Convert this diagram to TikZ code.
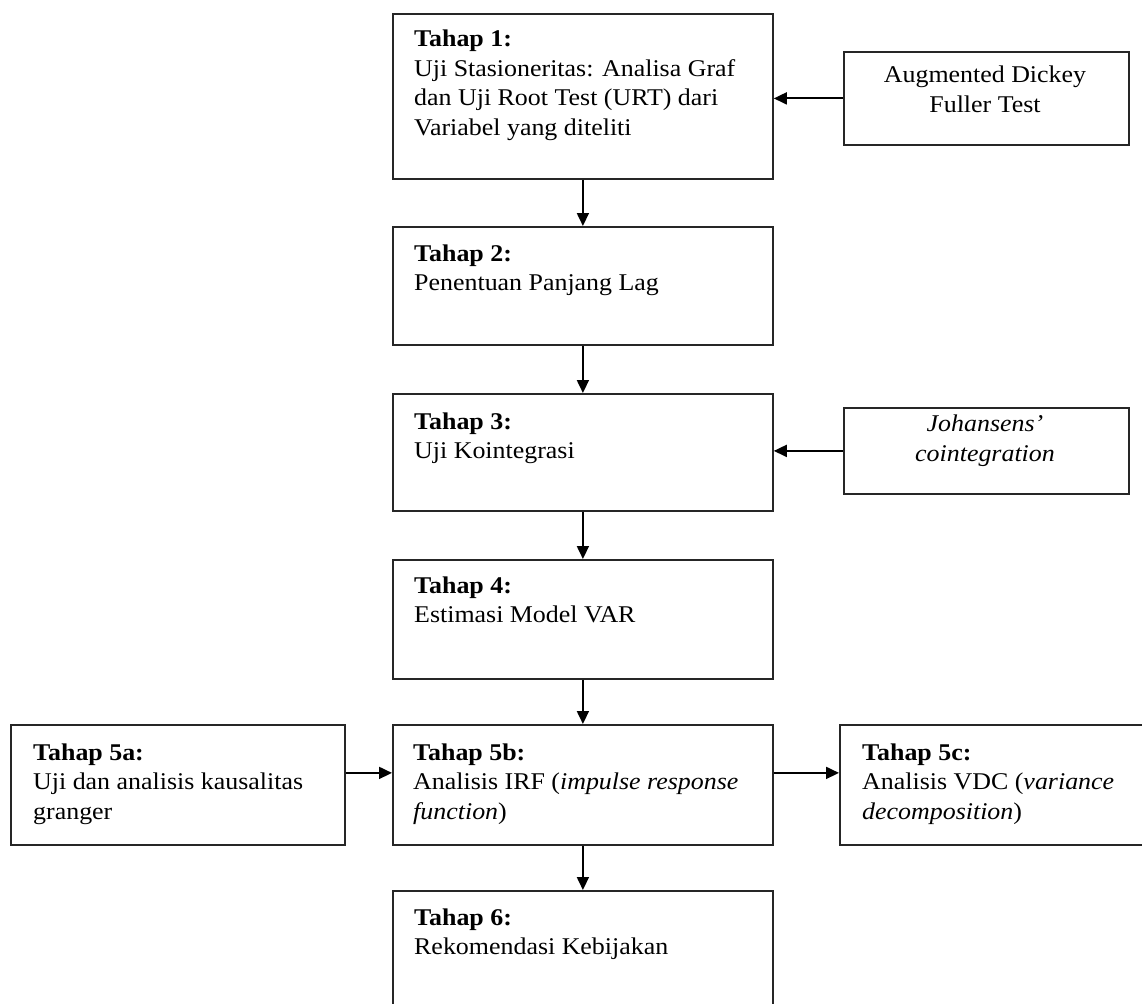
\documentclass[tikz,border=0pt]{standalone}
\usepackage{fontspec}
\setmainfont[FakeStretch=1.08]{Liberation Serif}
\usetikzlibrary{arrows.meta}
\newcommand{\lft}[1]{\begin{tabular}[t]{@{}l@{}}#1\end{tabular}}
\newcommand{\ctr}[1]{\begin{tabular}[t]{@{}c@{}}#1\end{tabular}}
\begin{document}
\begin{tikzpicture}[x=1pt,y=-1pt,
  box/.style={draw=black!85, line width=1.8pt, anchor=north west, inner sep=0pt},
  txt/.style={anchor=base west, inner sep=0pt, font=\fontsize{24pt}{29.5pt}\selectfont},
  ctxt/.style={anchor=base, inner sep=0pt, font=\fontsize{24pt}{30pt}\selectfont},
  arr/.style={line width=1.8pt, -{Triangle[length=13pt,width=12pt]}}]
\useasboundingbox (0,0) rectangle (1142,1003);
% boxes
\node[box, minimum width=380pt, minimum height=165pt] (b1) at (392,13) {};
\node[box, minimum width=380pt, minimum height=118pt] (b2) at (392,226) {};
\node[box, minimum width=380pt, minimum height=117pt] (b3) at (392,393) {};
\node[box, minimum width=380pt, minimum height=119pt] (b4) at (392,559) {};
\node[box, minimum width=380pt, minimum height=120pt] (b5b) at (392,724) {};
\node[box, minimum width=334pt, minimum height=120pt] (b5a) at (10,724) {};
\node[box, minimum width=315pt, minimum height=120pt] (b5c) at (839,724) {};
\node[box, minimum width=380pt, minimum height=125pt] (b6) at (392,890) {};
\node[box, minimum width=285pt, minimum height=93pt] (aug) at (843,51) {};
\node[box, minimum width=285pt, minimum height=86pt] (joh) at (843,407) {};
% texts
\node[txt] (t1) at ([shift={(22,34)}]b1.north west) {\lft{\textbf{Tahap 1:}\\Uji Stasioneritas: Analisa Graf\\dan Uji Root Test (URT) dari\\Variabel yang diteliti}};
\node[txt] (t2) at ([shift={(22,35)}]b2.north west) {\lft{\textbf{Tahap 2:}\\Penentuan Panjang Lag}};
\node[txt] (t3) at ([shift={(22,36)}]b3.north west) {\lft{\textbf{Tahap 3:}\\Uji Kointegrasi}};
\node[txt] (t4) at ([shift={(22,34)}]b4.north west) {\lft{\textbf{Tahap 4:}\\Estimasi Model VAR}};
\node[txt] (t5b) at ([shift={(21,36)}]b5b.north west) {\lft{\textbf{Tahap 5b:}\\Analisis IRF (\textit{impulse response}\\\textit{function})}};
\node[txt] (t5a) at ([shift={(23,36)}]b5a.north west) {\lft{\textbf{Tahap 5a:}\\Uji dan analisis kausalitas\\granger}};
\node[txt] (t5c) at ([shift={(23,36)}]b5c.north west) {\lft{\textbf{Tahap 5c:}\\Analisis VDC (\textit{variance}\\\textit{decomposition})}};
\node[txt] (t6) at ([shift={(22,35)}]b6.north west) {\lft{\textbf{Tahap 6:}\\Rekomendasi Kebijakan}};
\node[ctxt] (taug) at (985,83) {\ctr{Augmented Dickey\\Fuller Test}};
\node[ctxt] (tjoh) at (985,431) {\ctr{\textit{Johansens’}\\\textit{cointegration}}};
% connectors
\draw[arr] (b1.south) -- (b2.north);
\draw[arr] (b2.south) -- (b3.north);
\draw[arr] (b3.south) -- (b4.north);
\draw[arr] (b4.south) -- (b5b.north);
\draw[arr] (b5b.south) -- (b6.north);
\draw[arr] (aug.west) -- (aug.west -| b1.east);
\draw[arr] (joh.west) -- (joh.west -| b3.east);
\draw[arr] ([yshift=12pt]b5a.east) -- ([yshift=12pt]b5a.east -| b5b.west);
\draw[arr] ([yshift=12pt]b5b.east) -- ([yshift=12pt]b5b.east -| b5c.west);
\end{tikzpicture}
\end{document}
